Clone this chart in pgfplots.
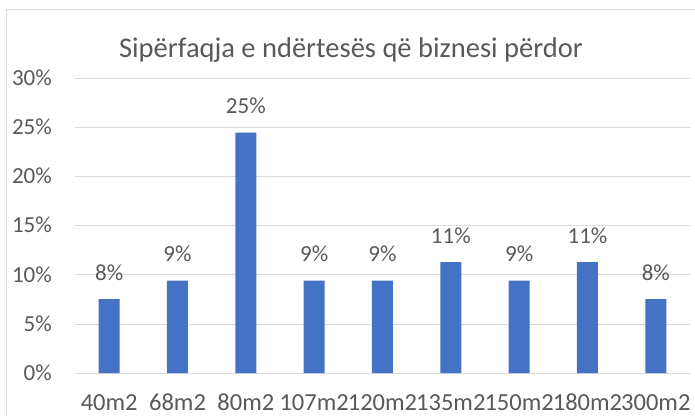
\documentclass[border=0pt]{standalone}
\usepackage{pgfplots}
\pgfplotsset{compat=1.18}
\usepackage{fontspec}
\setmainfont{Carlito}
\definecolor{barblue}{HTML}{4472C4}
\definecolor{txtgray}{HTML}{595959}
\definecolor{gridgray}{HTML}{D9D9D9}
\begin{document}
\begin{tikzpicture}[x=1bp,y=1bp]
\useasboundingbox (-75bp,-43bp) rectangle (620bp,373bp);
\draw[gridgray, line width=1bp] (-68bp,-60bp) rectangle (640bp,363bp);
\begin{axis}[
  at={(0bp,0bp)}, anchor=south west,
  scale only axis, width=615bp, height=294bp,
  ymin=0, ymax=30, ytick={0,5,...,30},
  xmin=-0.5, xmax=8.5,
  xtick=data,
  xticklabels={40m2,68m2,80m2,107m2,120m2,135m2,150m2,180m2,300m2},
  axis line style={draw=none},
  major tick length=0pt,
  ymajorgrids, grid style={gridgray, line width=1bp},
  yticklabel={\pgfmathprintnumber{\tick}\%},
  /pgf/number format/assume math mode=true,
  tick label style={font=\fontsize{23bp}{27bp}\selectfont, text=txtgray, inner sep=0pt},
  yticklabel style={anchor=base east, xshift=-23bp, yshift=-7bp},
  xticklabel style={anchor=base, yshift=-37.7bp, font=\fontsize{24.5bp}{28bp}\selectfont},
  ybar, bar width=21bp,
  nodes near coords={\pgfmathprintnumber[fixed,precision=0]{\pgfplotspointmeta}\%},
  every node near coord/.append style={font=\fontsize{23bp}{27bp}\selectfont, text=txtgray, anchor=base, yshift=19bp, inner sep=0pt},
  clip=false,
]
\addplot[fill=barblue, draw=none] coordinates {
(0,7.55) (1,9.43) (2,24.53) (3,9.43) (4,9.43) (5,11.32) (6,9.43) (7,11.32) (8,7.55)};
\end{axis}
\node[anchor=base, text=txtgray, font=\fontsize{28.5bp}{33bp}\selectfont, inner sep=0pt] at (276bp,315bp) {Sipërfaqja e ndërtesës që biznesi përdor};
\end{tikzpicture}
\end{document}
